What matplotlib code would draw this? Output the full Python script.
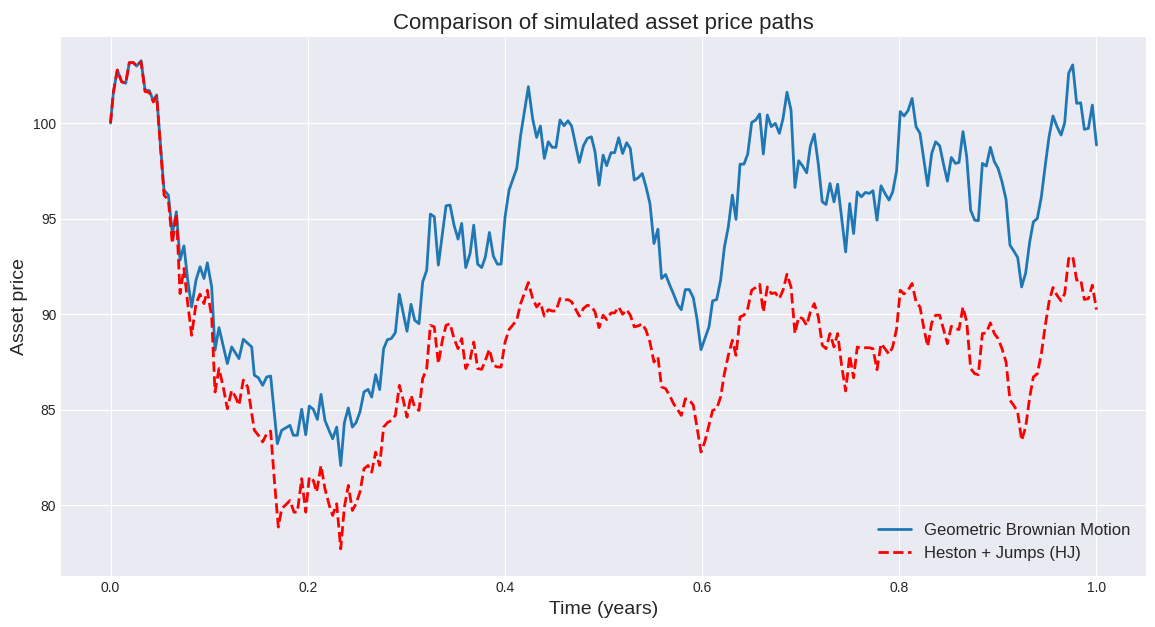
import numpy as np
import matplotlib
matplotlib.use("Agg")
import matplotlib.pyplot as plt

# ====== data (time in years, price) ======
t_gbm = [0.0, 0.003, 0.0069, 0.0113, 0.0154, 0.0191, 0.0232, 0.0265, 0.031, 0.035,
         0.0394, 0.0434, 0.0468, 0.0503, 0.0543, 0.0587, 0.0627, 0.0668, 0.0705, 0.0745,
         0.0783, 0.0823, 0.0867, 0.0908, 0.0948, 0.0982, 0.1026, 0.106, 0.11, 0.1185,
         0.1229, 0.1303, 0.1347, 0.1432, 0.1459, 0.15, 0.1543, 0.1584, 0.1624, 0.1692,
         0.1736, 0.182, 0.1854, 0.1895, 0.1939, 0.198, 0.2016, 0.2057, 0.2098, 0.2135,
         0.2175, 0.2219, 0.2253, 0.2294, 0.2335, 0.2372, 0.2412, 0.2453, 0.249, 0.253,
         0.2571, 0.2612, 0.2649, 0.2689, 0.273, 0.277, 0.2808, 0.2848, 0.2889, 0.2929,
         0.297, 0.3007, 0.3048, 0.3085, 0.3129, 0.3166, 0.3207, 0.3244, 0.3284, 0.3325,
         0.3366, 0.3403, 0.3444, 0.3484, 0.3525, 0.3562, 0.3603, 0.3647, 0.3684, 0.3724,
         0.3765, 0.3802, 0.3843, 0.3883, 0.3924, 0.3961, 0.4002, 0.4042, 0.412, 0.416,
         0.4238, 0.4282, 0.4322, 0.436, 0.44, 0.444, 0.448, 0.4518, 0.4559, 0.46,
         0.464, 0.4677, 0.4755, 0.4796, 0.4836, 0.4877, 0.4914, 0.4955, 0.4996, 0.5032,
         0.5076, 0.5113, 0.5154, 0.5194, 0.5235, 0.5272, 0.5312, 0.5353, 0.5393, 0.5431,
         0.5471, 0.5512, 0.5552, 0.5589, 0.563, 0.567, 0.5711, 0.5752, 0.5789, 0.583,
         0.587, 0.5911, 0.5948, 0.5989, 0.6029, 0.607, 0.6107, 0.6148, 0.6188, 0.6226,
         0.6266, 0.6307, 0.6344, 0.6385, 0.6425, 0.6463, 0.6503, 0.6544, 0.6584, 0.6621,
         0.6662, 0.6702, 0.6743, 0.6784, 0.6821, 0.6861, 0.6902, 0.6942, 0.698, 0.702,
         0.7061, 0.7098, 0.7138, 0.7179, 0.7219, 0.7257, 0.7297, 0.7338, 0.7375, 0.7415,
         0.7456, 0.7497, 0.7537, 0.7574, 0.7615, 0.7656, 0.7696, 0.7733, 0.7774, 0.7815,
         0.7855, 0.7896, 0.7933, 0.7973, 0.801, 0.8048, 0.8089, 0.813, 0.817, 0.821,
         0.825, 0.8288, 0.8329, 0.8369, 0.841, 0.8447, 0.8488, 0.8528, 0.8569, 0.8606,
         0.8646, 0.8684, 0.8724, 0.8765, 0.8802, 0.8843, 0.8883, 0.8924, 0.8964, 0.9002,
         0.9042, 0.9083, 0.9123, 0.916, 0.9201, 0.9241, 0.9282, 0.9323, 0.936, 0.94,
         0.9441, 0.9481, 0.9519, 0.9559, 0.96, 0.9641, 0.9678, 0.9718, 0.9759, 0.9799,
         0.984, 0.9877, 0.9918, 0.9958, 1.0]
p_gbm = [100.0, 101.64, 102.77, 102.16, 102.08, 103.16, 103.16, 102.98, 103.26, 101.73,
         101.69, 101.17, 101.47, 99.1, 96.49, 96.23, 94.22, 95.36, 92.83, 93.58,
         91.78, 90.38, 91.78, 92.48, 91.87, 92.69, 91.43, 88.12, 89.3, 87.42,
         88.29, 87.68, 88.69, 88.29, 86.81, 86.68, 86.28, 86.72, 86.77, 83.23,
         83.93, 84.19, 83.67, 83.67, 85.03, 83.7, 85.2, 85.03, 84.5, 85.81,
         84.45, 83.89, 83.49, 84.1, 82.09, 84.33, 85.1, 84.1, 84.33, 84.89,
         85.94, 86.07, 85.67, 86.84, 86.06, 88.2, 88.67, 88.73, 89.04, 91.05,
         90.03, 89.11, 90.52, 89.69, 89.51, 91.69, 92.3, 95.24, 95.1, 92.57,
         94.22, 95.67, 95.71, 94.66, 93.93, 94.75, 92.44, 93.18, 94.66, 92.62,
         92.44, 93.0, 94.28, 93.04, 92.62, 92.62, 95.1, 96.49, 97.63, 99.37,
         101.9, 100.21, 99.25, 99.84, 98.15, 99.02, 98.73, 98.73, 100.16, 99.86,
         100.12, 99.84, 97.94, 98.8, 99.2, 99.28, 98.5, 96.75, 98.32, 97.77,
         98.45, 98.45, 99.23, 98.41, 98.97, 98.67, 97.02, 97.14, 97.36, 96.67,
         95.79, 93.7, 94.45, 91.87, 92.08, 91.55, 91.05, 90.51, 90.24, 91.29,
         91.29, 90.86, 89.77, 88.15, 88.73, 89.34, 90.7, 90.77, 91.78, 93.49,
         94.57, 96.23, 94.96, 97.85, 97.85, 98.38, 100.03, 100.16, 100.47, 98.38,
         100.42, 99.81, 99.98, 99.46, 100.24, 101.61, 100.68, 96.63, 98.03, 97.75,
         97.4, 98.8, 99.42, 97.85, 95.88, 95.74, 96.84, 95.88, 96.8, 95.04,
         93.26, 95.79, 94.22, 96.4, 96.14, 96.37, 96.32, 96.46, 94.92, 96.72,
         96.32, 95.97, 96.4, 97.5, 100.6, 100.37, 100.65, 101.29, 99.81, 99.46,
         98.06, 96.72, 98.41, 99.02, 98.81, 97.89, 96.96, 98.2, 97.89, 97.94,
         99.55, 98.24, 95.44, 94.92, 94.89, 97.89, 97.75, 98.73, 97.98, 97.63,
         96.93, 96.0, 93.61, 93.32, 92.97, 91.43, 92.16, 93.79, 94.83, 95.01,
         96.14, 97.8, 99.28, 100.37, 99.81, 99.37, 100.02, 102.6, 103.04, 101.03,
         101.06, 99.67, 99.72, 100.94, 98.85]

t_hj = [0.0, 0.003, 0.0069, 0.0113, 0.0154, 0.0191, 0.0232, 0.0265, 0.031, 0.035,
        0.0394, 0.0434, 0.0468, 0.0503, 0.0543, 0.0587, 0.0627, 0.0668, 0.0705, 0.0745,
        0.0783, 0.0823, 0.0867, 0.0908, 0.0948, 0.0982, 0.1026, 0.106, 0.11, 0.1143,
        0.1185, 0.1229, 0.1265, 0.1303, 0.1347, 0.1391, 0.1459, 0.15, 0.1543, 0.1584,
        0.1624, 0.1662, 0.1702, 0.1736, 0.1788, 0.182, 0.1861, 0.1895, 0.1939, 0.198,
        0.2016, 0.2057, 0.209, 0.2135, 0.2175, 0.2219, 0.2253, 0.2294, 0.2335, 0.2372,
        0.2412, 0.2453, 0.249, 0.253, 0.2571, 0.2612, 0.2649, 0.2689, 0.273, 0.277,
        0.2808, 0.2848, 0.2889, 0.2929, 0.297, 0.3007, 0.3048, 0.3085, 0.3129, 0.3166,
        0.3207, 0.3244, 0.3284, 0.3325, 0.3366, 0.3403, 0.3444, 0.3484, 0.3525, 0.3562,
        0.3603, 0.3647, 0.3684, 0.3724, 0.3765, 0.3802, 0.3843, 0.3883, 0.3924, 0.3961,
        0.4002, 0.4042, 0.412, 0.416, 0.4238, 0.4282, 0.4322, 0.436, 0.44, 0.444,
        0.448, 0.4518, 0.4559, 0.46, 0.464, 0.4677, 0.4755, 0.4796, 0.4836, 0.4877,
        0.4914, 0.4955, 0.4996, 0.5032, 0.5076, 0.5113, 0.5154, 0.5194, 0.5235, 0.5272,
        0.5312, 0.5353, 0.5393, 0.5431, 0.5471, 0.5512, 0.5552, 0.5589, 0.563, 0.567,
        0.5711, 0.5752, 0.5789, 0.583, 0.587, 0.5911, 0.5948, 0.5989, 0.6029, 0.607,
        0.6107, 0.6148, 0.6188, 0.6226, 0.6266, 0.6307, 0.6344, 0.6385, 0.6425, 0.6463,
        0.6503, 0.6544, 0.6584, 0.6621, 0.6662, 0.6702, 0.6743, 0.6784, 0.6821, 0.6861,
        0.6902, 0.6942, 0.698, 0.702, 0.7061, 0.7098, 0.7138, 0.7179, 0.7219, 0.7257,
        0.7297, 0.7338, 0.7375, 0.7415, 0.7456, 0.7497, 0.7537, 0.7574, 0.7615, 0.7656,
        0.7696, 0.7733, 0.7774, 0.7815, 0.7855, 0.7896, 0.7933, 0.7973, 0.801, 0.8048,
        0.8089, 0.813, 0.817, 0.821, 0.825, 0.8288, 0.8329, 0.8369, 0.841, 0.8447,
        0.8488, 0.8528, 0.8569, 0.8606, 0.8646, 0.8684, 0.8724, 0.8765, 0.8802, 0.8843,
        0.8883, 0.8924, 0.8964, 0.9002, 0.9042, 0.9083, 0.9123, 0.916, 0.9201, 0.9241,
        0.9282, 0.9323, 0.936, 0.94, 0.9441, 0.9481, 0.9519, 0.9559, 0.96, 0.9641,
        0.9678, 0.9718, 0.9759, 0.9799, 0.984, 0.9877, 0.9918, 0.9958, 1.0]
p_hj = [100.0, 101.64, 102.77, 102.16, 102.08, 103.16, 103.16, 102.98, 103.2, 101.65,
        101.6, 101.1, 101.4, 99.0, 96.23, 95.97, 93.7, 95.27, 91.08, 92.39,
        90.56, 88.9, 90.56, 91.05, 90.56, 91.26, 89.86, 85.93, 87.16, 86.2,
        85.06, 86.02, 85.7, 85.24, 86.56, 86.2, 83.93, 83.67, 83.32, 83.75,
        83.89, 81.31, 78.87, 79.83, 80.09, 80.26, 79.65, 79.65, 81.4, 79.65,
        81.49, 81.31, 80.7, 82.09, 80.87, 80.0, 79.48, 80.09, 77.73, 79.91,
        81.05, 79.74, 80.09, 80.7, 81.92, 82.09, 81.74, 82.79, 82.09, 84.1,
        84.33, 84.45, 84.71, 86.28, 85.5, 84.62, 85.76, 85.15, 84.97, 86.63,
        87.16, 89.42, 89.34, 87.42, 88.64, 89.42, 89.51, 88.73, 88.2, 88.73,
        87.16, 87.63, 88.55, 87.16, 87.12, 87.59, 88.17, 87.33, 87.24, 87.24,
        88.55, 89.2, 89.69, 90.56, 91.66, 90.82, 90.38, 90.61, 89.9, 90.24,
        90.17, 90.17, 90.82, 90.73, 90.77, 90.65, 89.9, 90.3, 90.47, 90.42,
        90.12, 89.3, 89.95, 89.72, 90.07, 90.07, 90.38, 90.0, 90.24, 89.95,
        89.34, 89.39, 89.51, 89.16, 88.55, 87.5, 87.77, 86.2, 86.11, 85.76,
        85.32, 85.01, 84.71, 85.58, 85.53, 85.24, 84.1, 82.79, 83.36, 84.2,
        84.97, 85.06, 85.67, 86.89, 87.85, 88.64, 87.85, 89.86, 89.95, 90.3,
        91.26, 91.4, 91.57, 90.12, 91.43, 91.08, 91.12, 90.82, 91.26, 92.09,
        91.43, 88.99, 89.86, 89.77, 89.42, 90.12, 90.56, 89.86, 88.38, 88.2,
        88.99, 88.29, 88.99, 87.33, 85.99, 87.85, 86.68, 88.29, 88.2, 88.25,
        88.25, 88.2, 87.1, 88.46, 88.2, 87.91, 88.29, 89.25, 91.26, 91.06,
        91.26, 91.61, 90.65, 90.38, 89.25, 88.32, 89.55, 89.95, 89.95, 89.25,
        88.46, 89.37, 89.25, 89.2, 90.38, 89.6, 87.16, 86.89, 86.84, 88.99,
        89.02, 89.55, 88.99, 88.73, 88.2, 87.5, 85.5, 85.24, 84.89, 83.4,
        84.1, 85.67, 86.72, 86.89, 87.94, 89.42, 90.65, 91.4, 90.99, 90.7,
        91.08, 92.91, 93.04, 91.78, 91.82, 90.77, 90.82, 91.52, 90.24]

# ====== plot ======
plt.style.use("seaborn-v0_8-darkgrid")
plt.rcParams["font.family"] = ["Liberation Sans", "DejaVu Sans"]

fig, ax = plt.subplots(figsize=(11.55, 6.27), dpi=100)
ax.plot(t_gbm, p_gbm, color="tab:blue", lw=2, label="Geometric Brownian Motion")
ax.plot(t_hj, p_hj, "r--", lw=2, label="Heston + Jumps (HJ)")

ax.set_title("Comparison of simulated asset price paths", fontsize=16)
ax.set_xlabel("Time (years)", fontsize=14)
ax.set_ylabel("Asset price", fontsize=14)
ax.set_ylim(76.3, 104.5)
ax.legend(loc="lower right", fontsize=12)

fig.subplots_adjust(left=0.053, right=0.992, top=0.941, bottom=0.081)
fig.savefig("out.png", dpi=100)
